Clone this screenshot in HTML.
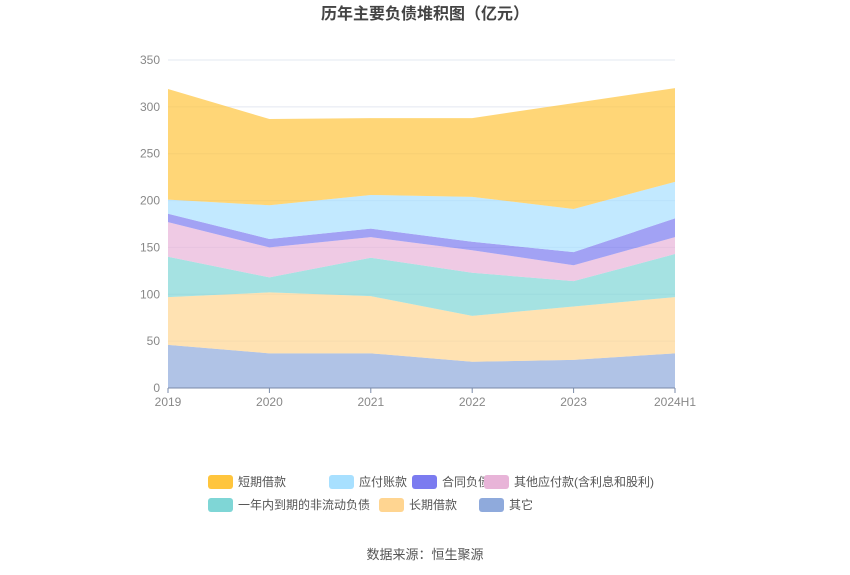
<!DOCTYPE html>
<html><head><meta charset="utf-8">
<style>
body{margin:0;background:#fff;font-family:"Liberation Sans","Noto Sans CJK SC",sans-serif;}
#wrap{position:relative;width:850px;height:575px;overflow:hidden;}
</style></head>
<body>
<div id="wrap">
<svg id="chart" width="850" height="575"></svg>
</div>
<script>
const categories=["2019","2020","2021","2022","2023","2024H1"];
const seriesNames=["其它","长期借款","一年内到期的非流动负债","其他应付款(含利息和股利)","合同负债","应付账款","短期借款"];
const sOther=[46,37,37,28,30,37];
const sLongLoan=[51,65,61,49,57,60];
const sCurrentNonCur=[43,16,41,46,27,46];
const sOtherPay=[37,32,22,24,17,18];
const sContract=[9,9,9,9,14,20];
const sPayable=[15,36,36,48,46,39];
const sShortLoan=[118,92,82,84,113,100];
const yTicks=[0,50,100,150,200,250,300,350];
const seriesData=[sOther,sLongLoan,sCurrentNonCur,sOtherPay,sContract,sPayable,sShortLoan];
const fills=["#8faadc","#ffd591","#7fd6d6","#e8b4d8","#7b7bf0","#a8e0ff","#ffc53d"];
const legendOrder=[6,5,4,3,2,1,0];
const NS="http://www.w3.org/2000/svg";
const svg=document.getElementById('chart');
const x0=168,x1=675,y0=388,y1=60,ymax=350;
const X=i=>x0+(x1-x0)*i/(categories.length-1);
const Y=v=>y0-(y0-y1)*v/ymax;
function mk(t,a){const e=document.createElementNS(NS,t);for(const k in a)e.setAttribute(k,a[k]);svg.appendChild(e);return e;}
const title=mk('text',{x:425,y:19,'text-anchor':'middle','font-size':16,'font-weight':'bold',fill:'#444'});
title.textContent='历年主要负债堆积图（亿元）';


yTicks.forEach(t=>{
 if(t>0){const g=mk('line',{x1:x0,x2:x1,y1:Y(t),y2:Y(t),stroke:'#e3e8f0','stroke-width':1});
 
 }
 const l=mk('text',{x:160,y:Y(t)+4,'text-anchor':'end','font-size':12,fill:'#888'});
 l.textContent=t;
 
 
});
let base=categories.map(()=>0);
seriesData.forEach((s,si)=>{
 const top=base.map((b,i)=>b+s[i]);
 let d='M'+top.map((v,i)=>X(i)+','+Y(v)).join(' L');
 for(let i=categories.length-1;i>=0;i--)d+=' L'+X(i)+','+Y(base[i]);
 const p=mk('path',{d:d+'Z',fill:fills[si],'fill-opacity':0.7,stroke:'none'});
 
 
 base=top;
});
const ax=mk('line',{x1:x0,x2:x1,y1:y0,y2:y0,stroke:'#7a8aa8','stroke-width':1});


categories.forEach((c,i)=>{
 const tk=mk('line',{x1:X(i),x2:X(i),y1:y0,y2:y0+5,stroke:'#7a8aa8'});
 
 
 const t=mk('text',{x:X(i),y:406,'text-anchor':'middle','font-size':12,fill:'#888'});
 t.textContent=c;
 
 
});
const legPos=[[208,482],[329,482],[412,482],[484,482],[208,505],[379,505],[479,505]];
legendOrder.forEach((si,k)=>{
 const [lx,ly]=legPos[k];
 const r=mk('rect',{x:lx,y:ly-7,width:25,height:14,rx:3,fill:fills[si]});
 
 
 const t=mk('text',{x:lx+30,y:ly+4,'font-size':12,fill:'#555'});
 t.textContent=seriesNames[si];
 
 
});
const src=mk('text',{x:425,y:559,'text-anchor':'middle','font-size':13,fill:'#555'});
src.textContent='数据来源：恒生聚源';


</script>
</body></html>
